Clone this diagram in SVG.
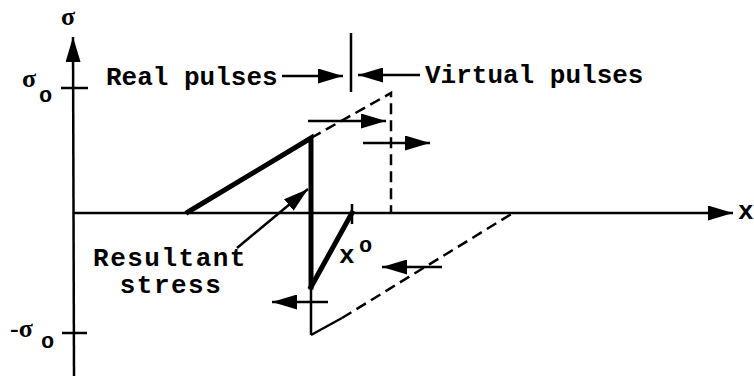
<svg xmlns="http://www.w3.org/2000/svg" width="754" height="376" viewBox="0 0 754 376">
<style>
.ln{stroke:#000;stroke-width:2.5;fill:none;stroke-linecap:butt}
.thick{stroke:#000;stroke-width:5;fill:none;stroke-linecap:square;stroke-linejoin:miter}
.dash{stroke:#000;stroke-width:2.5;fill:none;stroke-dasharray:11 6}
.t{font-family:"Liberation Mono","DejaVu Sans Mono",monospace;font-size:26px;font-weight:bold;fill:#000}
.g{font-family:"Liberation Serif","DejaVu Serif",serif;font-size:26px;font-weight:bold;fill:#000}
.s{font-family:"Liberation Mono","DejaVu Sans Mono",monospace;font-size:22px;font-weight:bold;fill:#000}
</style>
<defs>
<marker id="ah" markerUnits="userSpaceOnUse" markerWidth="25" markerHeight="15" refX="25" refY="7.5" orient="auto">
<path d="M0,0 L25,7.5 L0,15 z" fill="#000"/>
</marker>
</defs>
<rect width="754" height="376" fill="#fff"/>
<g id="axes">
<line class="ln" x1="74" y1="376" x2="73" y2="37" marker-end="url(#ah)"/>
<line class="ln" x1="74" y1="213" x2="733" y2="213" marker-end="url(#ah)"/>
<line class="ln" x1="61" y1="88" x2="88" y2="88"/>
<line class="ln" x1="62" y1="333" x2="87" y2="333"/>
<text class="g" x="68" y="25" text-anchor="middle">σ</text>
<text class="g" x="22" y="87">σ</text>
<text class="s" x="39" y="102">o</text>
<text class="g" x="10" y="337">-σ</text>
<text class="s" x="41" y="348">o</text>
<text class="t" x="738" y="219" font-size="20">x</text>
</g>
<g id="real-pulse">
<polyline class="thick" points="188,212 311,138 311,287"/>
<line class="thick" x1="311" y1="287" x2="352" y2="213"/>
<line class="ln" x1="311" y1="287" x2="311" y2="335"/>
<line class="ln" x1="311" y1="335" x2="342" y2="318"/>
<line class="ln" x1="352" y1="204" x2="352" y2="224"/>
</g>
<g id="virtual-pulse">
<polyline class="dash" points="311,138 391,93 391,213"/>
<line class="dash" x1="342" y1="318" x2="513" y2="213"/>
</g>
<g id="divider">
<line class="ln" x1="351" y1="33" x2="351" y2="92"/>
</g>
<g id="connectors">
<line class="ln" x1="282" y1="76" x2="343" y2="76" marker-end="url(#ah)"/>
<line class="ln" x1="420" y1="75" x2="358" y2="75" marker-end="url(#ah)"/>
<line class="ln" x1="308" y1="121" x2="386" y2="121" marker-end="url(#ah)"/>
<line class="ln" x1="363" y1="143" x2="430" y2="143" marker-end="url(#ah)"/>
<line class="ln" x1="328" y1="302" x2="272" y2="302" marker-end="url(#ah)"/>
<line class="ln" x1="442" y1="267" x2="382" y2="267" marker-end="url(#ah)"/>
<line class="ln" x1="237" y1="248" x2="308" y2="189" marker-end="url(#ah)"/>
</g>
<g id="labels">
<text class="t" x="106" y="85">Real pulses</text>
<text class="t" x="425" y="83">Virtual pulses</text>
<text class="t" x="170" y="266" text-anchor="middle" font-size="23" letter-spacing="1.5">Resultant</text>
<text class="t" x="171" y="293" text-anchor="middle" font-size="23" letter-spacing="1.5">stress</text>
<text class="t" x="339" y="263">x</text>
<text class="s" x="359" y="252">o</text>
</g>
</svg>
